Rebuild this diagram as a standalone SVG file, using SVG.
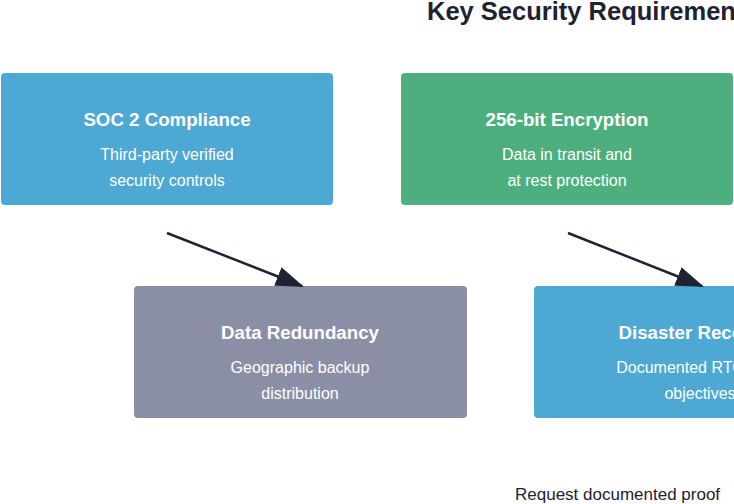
<svg xmlns="http://www.w3.org/2000/svg" width="734" height="504" viewBox="0 0 734 504">
<style>
.t{font-family:"Liberation Sans",Arial,sans-serif;fill:#fff;text-anchor:middle}
.h{font-size:18.7px;font-weight:bold}
.d{font-size:16px}
.c{stroke:#1e2233;stroke-width:2.5;fill:none}
</style>
<defs><marker id="b" markerWidth="28" markerHeight="20" refX="26" refY="10" orient="auto" markerUnits="userSpaceOnUse"><path d="M0,0L28,10L0,20z" fill="#1e2233"/></marker></defs>
<rect width="734" height="504" fill="#fff"/>
<text x="427" y="20" style="font-family:'Liberation Sans',Arial,sans-serif;font-size:25.5px;font-weight:bold;fill:#1e2233">Key Security Requirements</text>
<g id="soc"><rect x="1" y="73" width="332" height="132" rx="4" fill="#4ea8d4"/><text class="t h" x="167" y="126">SOC 2 Compliance</text><text class="t d" x="167" y="160">Third-party verified</text><text class="t d" x="167" y="186">security controls</text></g>
<g id="enc"><rect x="401" y="73" width="332" height="132" rx="4" fill="#4caf7d"/><text class="t h" x="567" y="126">256-bit Encryption</text><text class="t d" x="567" y="160">Data in transit and</text><text class="t d" x="567" y="186">at rest protection</text></g>
<g id="red"><rect x="134" y="286" width="333" height="132" rx="4" fill="#8a8fa6"/><text class="t h" x="300" y="339">Data Redundancy</text><text class="t d" x="300" y="373">Geographic backup</text><text class="t d" x="300" y="399">distribution</text></g>
<g id="dr"><rect x="534" y="286" width="333" height="132" rx="4" fill="#4ea8d4"/><text class="t h" x="700" y="339">Disaster Recovery</text><text class="t d" x="700" y="373">Documented RTO/RPO</text><text class="t d" x="700" y="399">objectives</text></g>
<g id="connectors"><line class="c" x1="167" y1="233" x2="302" y2="286" marker-end="url(#b)"/><line class="c" x1="568" y1="233" x2="702" y2="286" marker-end="url(#b)"/></g>
<text x="515" y="500" style="font-family:'Liberation Sans',Arial,sans-serif;font-size:17px;fill:#1e2233">Request documented proof</text>
</svg>
